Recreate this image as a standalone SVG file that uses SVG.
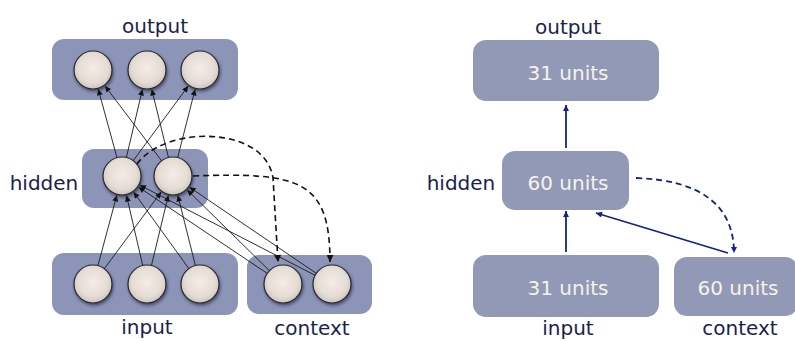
<svg xmlns="http://www.w3.org/2000/svg" width="795" height="341" viewBox="0 0 795 341">
  <style>
    .lbl { font-family: "DejaVu Sans", "Liberation Sans", sans-serif; font-size: 20px; fill: #1b1e4e; text-anchor: middle; }
    .units { font-family: "DejaVu Sans", "Liberation Sans", sans-serif; font-size: 20px; fill: #f7f2e8; text-anchor: middle; }
    .layer { fill: #8c94b7; }
    .block { fill: #9199b7; }
    .unit { fill: url(#unitFill); stroke: #2a2a2a; stroke-width: 1.2; filter: url(#shadow); }
    .w { fill: none; stroke: #1a1a1a; stroke-width: 0.9; marker-end: url(#tipK); }
    .copy { fill: none; stroke: #111; stroke-width: 1.6; stroke-dasharray: 6 4; marker-end: url(#tipK2); }
    .flow { fill: none; stroke: #14228a; stroke-width: 1.8; marker-end: url(#tipB); }
    .flowd { fill: none; stroke: #14228a; stroke-width: 1.8; stroke-dasharray: 6 4; marker-end: url(#tipB); }
  </style>
  <defs>
    <radialGradient id="unitFill" cx="0.5" cy="0.45" r="0.55">
      <stop offset="0" stop-color="#f6ebe6"/>
      <stop offset="0.7" stop-color="#e6dcd6"/>
      <stop offset="1" stop-color="#cdc4bf"/>
    </radialGradient>
    <filter id="shadow" x="-30%" y="-30%" width="170%" height="170%">
      <feDropShadow dx="1" dy="2" stdDeviation="1.5" flood-color="#1a1d3a" flood-opacity="0.6"/>
    </filter>
    <marker id="tipK" viewBox="0 0 10 10" refX="10" refY="5" markerUnits="userSpaceOnUse" markerWidth="8" markerHeight="6" orient="auto">
      <path d="M0,0 L10,5 L0,10 z" fill="#111"/>
    </marker>
    <marker id="tipK2" viewBox="0 0 10 10" refX="10" refY="5" markerUnits="userSpaceOnUse" markerWidth="8" markerHeight="7" orient="auto">
      <path d="M0,0 L10,5 L0,10 z" fill="#111"/>
    </marker>
    <marker id="tipB" viewBox="0 0 10 10" refX="10" refY="5" markerUnits="userSpaceOnUse" markerWidth="7" markerHeight="6" orient="auto">
      <path d="M0,0 L10,5 L0,10 z" fill="#14228a"/>
    </marker>
  </defs>

  <!-- Unit-level view of the simple recurrent network -->
  <g id="net-output">
    <rect class="layer" x="52" y="39" width="186" height="61" rx="12"/>
    <circle class="unit" cx="93" cy="70" r="19"/>
    <circle class="unit" cx="147" cy="70" r="19"/>
    <circle class="unit" cx="200" cy="70" r="19"/>
    <text class="lbl" x="155" y="33">output</text>
  </g>
  <g id="net-hidden">
    <rect class="layer" x="82" y="149" width="126" height="59" rx="12"/>
    <circle class="unit" cx="122" cy="176" r="19"/>
    <circle class="unit" cx="173" cy="176" r="19"/>
    <text class="lbl" x="44" y="190">hidden</text>
  </g>
  <g id="net-input">
    <rect class="layer" x="52" y="253" width="186" height="62" rx="12"/>
    <circle class="unit" cx="93" cy="284" r="19"/>
    <circle class="unit" cx="147" cy="284" r="19"/>
    <circle class="unit" cx="200" cy="284" r="19"/>
    <text class="lbl" x="147" y="334">input</text>
  </g>
  <g id="net-context">
    <rect class="layer" x="247" y="255" width="125" height="59" rx="12"/>
    <circle class="unit" cx="283" cy="284" r="19"/>
    <circle class="unit" cx="332" cy="284" r="19"/>
    <text class="lbl" x="312" y="335">context</text>
  </g>

  <g id="net-connectors">
    <!-- hidden to output -->
    <line class="w" x1="116.99" y1="157.67" x2="98.28" y2="89.29"/>
    <line class="w" x1="126.36" y1="157.51" x2="142.41" y2="89.47"/>
    <line class="w" x1="133.26" y1="160.70" x2="188.15" y2="86.11"/>
    <line class="w" x1="161.55" y1="160.83" x2="105.05" y2="85.96"/>
    <line class="w" x1="168.47" y1="157.54" x2="151.77" y2="89.43"/>
    <line class="w" x1="177.69" y1="157.59" x2="195.06" y2="89.38"/>
    <!-- input to hidden -->
    <line class="w" x1="97.93" y1="265.65" x2="116.81" y2="195.32"/>
    <line class="w" x1="104.31" y1="268.73" x2="161.10" y2="192.07"/>
    <line class="w" x1="142.72" y1="265.50" x2="126.51" y2="195.48"/>
    <line class="w" x1="151.45" y1="265.53" x2="168.32" y2="195.44"/>
    <line class="w" x1="188.87" y1="268.59" x2="133.71" y2="192.22"/>
    <line class="w" x1="195.39" y1="265.57" x2="177.85" y2="195.40"/>
    <!-- context to hidden -->
    <line class="w" x1="267.22" y1="273.42" x2="138.61" y2="187.14"/>
    <line class="w" x1="269.45" y1="270.69" x2="187.27" y2="190.01"/>
    <line class="w" x1="315.10" y1="275.31" x2="139.79" y2="185.15"/>
    <line class="w" x1="316.28" y1="273.32" x2="189.55" y2="187.24"/>
    <!-- hidden copied into context -->
    <path class="copy" d="M137,164 C165,125 265,125 273,178 L278,262"/>
    <path class="copy" d="M193,176 C300,172 330,180 330,262"/>
  </g>

  <!-- Block-level view of the same network -->
  <g id="blk-output">
    <rect class="block" x="473" y="40" width="186" height="61" rx="13"/>
    <text class="units" x="568" y="80">31 units</text>
    <text class="lbl" x="568" y="34">output</text>
  </g>
  <g id="blk-hidden">
    <rect class="block" x="502" y="151" width="127" height="59" rx="13"/>
    <text class="units" x="568" y="190">60 units</text>
    <text class="lbl" x="461" y="190">hidden</text>
  </g>
  <g id="blk-input">
    <rect class="block" x="473" y="255" width="186" height="62" rx="13"/>
    <text class="units" x="568" y="295">31 units</text>
    <text class="lbl" x="568" y="335">input</text>
  </g>
  <g id="blk-context">
    <rect class="block" x="674" y="257" width="124" height="59" rx="13"/>
    <text class="units" x="738" y="295">60 units</text>
    <text class="lbl" x="740" y="335">context</text>
  </g>

  <g id="blk-connectors">
    <line class="flow" x1="566" y1="148" x2="566" y2="105"/>
    <line class="flow" x1="566" y1="252" x2="566" y2="211"/>
    <line class="flow" x1="728" y1="253" x2="596" y2="213"/>
    <path class="flowd" d="M636,178 C700,180 734,205 734,253"/>
  </g>
</svg>
